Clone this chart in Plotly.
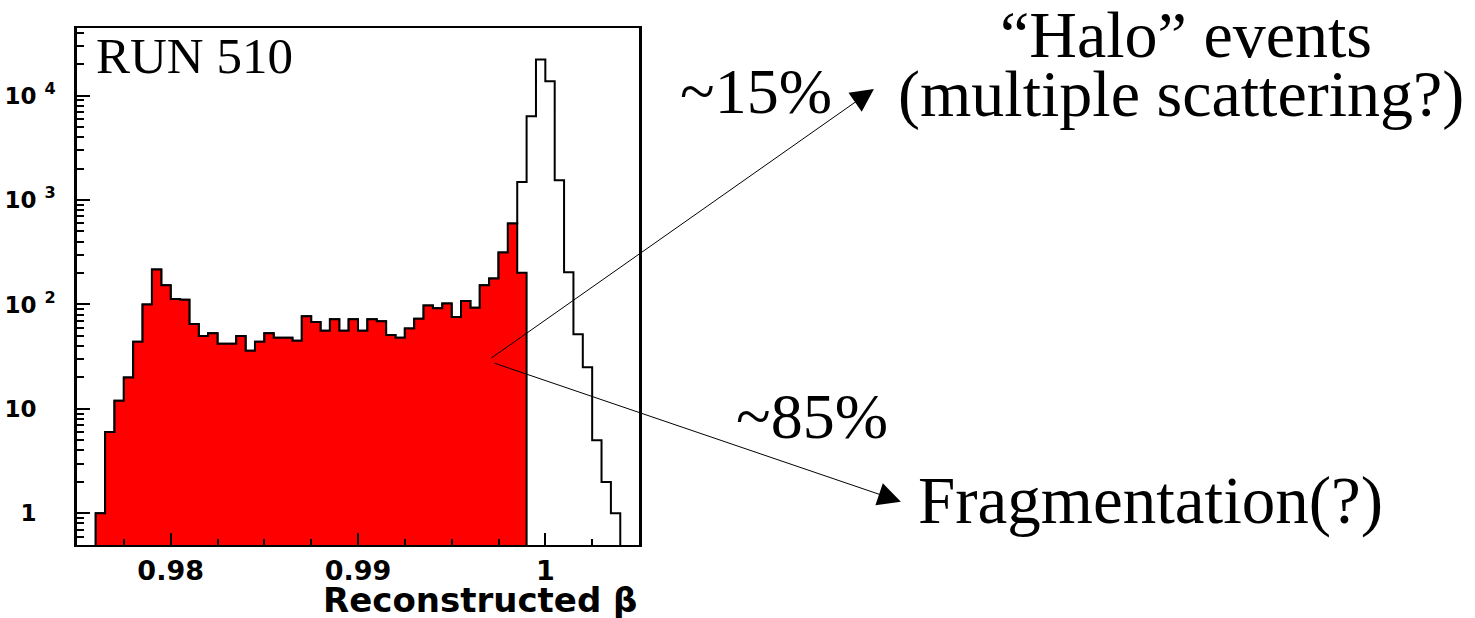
import plotly.graph_objects as go

# Histogram binning of reconstructed beta
bin_start = 0.976
bin_width = 0.0005

# All events per bin
counts_all = [1, 6, 12, 20, 44, 100, 216, 153, 113, 111,
              65, 50, 53, 42, 42, 50, 36, 44, 53, 48,
              48, 45, 77, 68, 56, 72, 56, 72, 56, 72,
              69, 51, 48, 59, 73, 98, 92, 102, 76, 108,
              93, 153, 177, 315, 596, 1490, 6340, 22100, 13700, 1550,
              203, 52, 25, 5, 2, 1]

# Events below the beta cut (shaded)
counts_low = [1, 6, 12, 20, 44, 100, 216, 153, 113, 111,
              65, 50, 53, 42, 42, 50, 36, 44, 53, 48,
              48, 45, 77, 68, 56, 72, 56, 72, 56, 72,
              69, 51, 48, 59, 73, 98, 92, 102, 76, 108,
              93, 153, 177, 315, 596, 201]

# "10" labels padded with an empty superscript so the mantissas line up
PAD = " <sup>\u2007</sup>"
y_tick_vals = [1, 10, 100, 1000, 10000]
y_tick_text = ["1" + PAD, "10" + PAD,
               "10 <sup>2</sup>", "10 <sup>3</sup>", "10 <sup>4</sup>"]
x_tick_vals = [0.98, 0.99, 1.0]
x_tick_text = ["0.98", "0.99", "1"]

FLOOR = 0.05  # below the visible range, closes the filled outline


def step_outline(counts):
    xs, ys = [bin_start], [FLOOR]
    for i, c in enumerate(counts):
        lo = bin_start + i * bin_width
        hi = lo + bin_width
        xs += [lo, hi]
        ys += [c, c]
    xs.append(bin_start + len(counts) * bin_width)
    ys.append(FLOOR)
    return xs, ys


fig = go.Figure()

xa, ya = step_outline(counts_all)
fig.add_trace(go.Scatter(x=xa, y=ya, mode="lines", fill="toself",
                         fillcolor="white",
                         line=dict(color="black", width=2),
                         hoverinfo="skip", showlegend=False))

xl, yl = step_outline(counts_low)
fig.add_trace(go.Scatter(x=xl, y=yl, mode="lines", fill="toself",
                         fillcolor="#ff0000",
                         line=dict(color="black", width=2),
                         hoverinfo="skip", showlegend=False))

minor_y = [m * 10 ** d for d in range(-1, 5) for m in range(2, 10)]

sans_bold = "DejaVu Sans, Liberation Sans, Arial, sans-serif"

fig.update_layout(
    width=1475, height=618,
    margin=dict(l=77, r=836, t=28, b=73),
    paper_bgcolor="white", plot_bgcolor="white",
    showlegend=False,
    xaxis=dict(range=[0.975, 1.005], tickmode="array",
               tickvals=x_tick_vals, ticktext=x_tick_text,
               ticks="inside", ticklen=12, tickwidth=1.5, tickcolor="black",
               showline=True, linewidth=2, linecolor="black", mirror=True,
               showgrid=False, zeroline=False, automargin=False,
               tickfont=dict(family=sans_bold, size=27, color="black",
                             weight="bold"),
               ticklabelstandoff=1,
               minor=dict(ticks="inside", ticklen=6, tickwidth=1.5,
                          tickcolor="black", dtick=0.0025, tick0=0.975,
                          showgrid=False)),
    yaxis=dict(type="log", range=[-0.303, 4.647], tickmode="array",
               tickvals=y_tick_vals, ticktext=y_tick_text,
               ticks="inside", ticklen=13, tickwidth=1.5, tickcolor="black",
               showline=True, linewidth=2.5, linecolor="black", mirror=True,
               showgrid=False, zeroline=False, automargin=False,
               tickfont=dict(family=sans_bold, size=23, color="black",
                             weight="bold"),
               ticklabelstandoff=14,
               minor=dict(ticks="inside", ticklen=7, tickwidth=1.5,
                          tickcolor="black", tickmode="array",
                          tickvals=minor_y, showgrid=False)),
)

serif = "Liberation Serif, Times New Roman, serif"

texts = [
    dict(text="RUN 510", x=0.031, y=0.945, xanchor="left", size=51),
    dict(text="\u201cHalo\u201d events", x=1.973, y=0.987, xanchor="center", size=66),
    dict(text="(multiple scattering?)", x=1.964, y=0.872, xanchor="center", size=66),
    dict(text="~15%", x=1.208, y=0.878, xanchor="center", size=64),
    dict(text="~85%", x=1.307, y=0.2495, xanchor="center", size=64),
    dict(text="Fragmentation(?)", x=1.911, y=0.086, xanchor="center", size=67),
]
for t in texts:
    fig.add_annotation(xref="paper", yref="paper", x=t["x"], y=t["y"],
                       text=t["text"], showarrow=False,
                       xanchor=t["xanchor"], yanchor="middle",
                       font=dict(family=serif, size=t["size"], color="black"))

# Axis title, right-aligned under the frame
fig.add_annotation(xref="paper", yref="paper", x=1.0, y=-0.107,
                   text="Reconstructed \u03b2", showarrow=False,
                   xanchor="right", yanchor="middle",
                   font=dict(family=sans_bold, size=34, color="black",
                             weight="bold"))

# Arrows pointing to the two categories
arrows = [
    dict(x=1.418, y=0.882, ax=-384, ay=270),
    dict(x=1.466, y=0.0838, ax=-408, ay=-139),
]
for a in arrows:
    fig.add_annotation(xref="paper", yref="paper", x=a["x"], y=a["y"],
                       ax=a["ax"], ay=a["ay"], text="", showarrow=True,
                       arrowhead=2, arrowsize=4.6, arrowwidth=1,
                       arrowcolor="black", standoff=0, startstandoff=0)

fig.write_html("out.html")
